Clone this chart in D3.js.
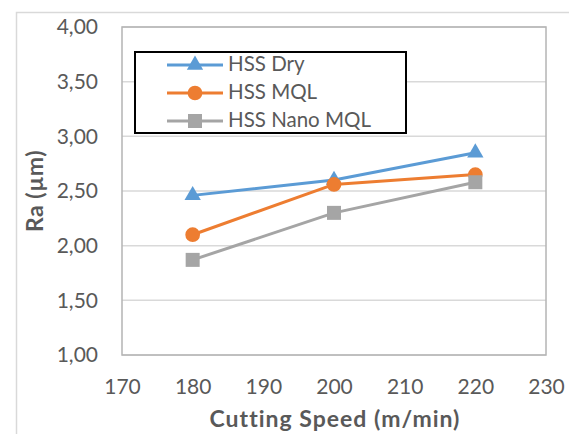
<!DOCTYPE html>
<html>
<head>
<meta charset="utf-8">
<script src="https://cdn.jsdelivr.net/npm/d3@7"></script>
<style>
  html, body { margin: 0; padding: 0; background: #fff; }
  svg { display: block; font-family: Lato, "Open Sans", sans-serif; }
</style>
</head>
<body>
<svg id="chart" width="569" height="434"></svg>
<script>
// Cutting speeds (m/min)
const speeds = [180, 200, 220];
// Surface roughness Ra (µm) per lubrication condition
const hssDry = [2.46, 2.60, 2.85];
const hssMql = [2.10, 2.56, 2.65];
const hssNanoMql = [1.87, 2.30, 2.58];
const seriesNames = ["HSS Dry", "HSS MQL", "HSS Nano MQL"];
const xTicks = [170, 180, 190, 200, 210, 220, 230];
const yTicks = [1.0, 1.5, 2.0, 2.5, 3.0, 3.5, 4.0];
const xTitle = "Cutting Speed (m/min)";
const yTitle = "Ra (µm)";

const series = [
  { name: seriesNames[0], values: hssDry, color: "#5B9BD5", symbol: d3.symbolTriangle, size: 115 },
  { name: seriesNames[1], values: hssMql, color: "#ED7D31", symbol: d3.symbolCircle, size: 170 },
  { name: seriesNames[2], values: hssNanoMql, color: "#A5A5A5", symbol: d3.symbolSquare, size: 196 }
];

const svg = d3.select("#chart");
const plot = { left: 122, right: 546, top: 27, bottom: 355 };

const x = d3.scaleLinear().domain([170, 230]).range([plot.left, plot.right]);
const y = d3.scaleLinear().domain([1, 4]).range([plot.bottom, plot.top]);

// outer chart frame
svg.append("rect")
  .attr("x", 16.5).attr("y", 12.5)
  .attr("width", 600).attr("height", 500)
  .attr("fill", "none").attr("stroke", "#D9D9D9").attr("stroke-width", 1.5);

// horizontal gridlines
svg.append("g")
  .selectAll("line")
  .data(yTicks)
  .join("line")
  .attr("x1", plot.left).attr("x2", plot.right)
  .attr("y1", d => y(d)).attr("y2", d => y(d))
  .attr("stroke", "#D9D9D9").attr("stroke-width", 1.5);

// plot area border
svg.append("rect")
  .attr("x", plot.left).attr("y", plot.top)
  .attr("width", plot.right - plot.left).attr("height", plot.bottom - plot.top)
  .attr("fill", "none").attr("stroke", "#B4B4B4").attr("stroke-width", 1.5);

// y axis labels
const yAxis = d3.axisLeft(y).tickValues(yTicks)
  .tickFormat(d => d3.format(".2f")(d).replace(".", ","))
  .tickSize(0).tickPadding(24);
svg.append("g")
  .attr("transform", `translate(${plot.left},0)`)
  .call(yAxis)
  .call(g => g.select(".domain").remove())
  .call(g => g.selectAll("text")
    .attr("fill", "#595959").attr("font-size", 21)
    .attr("font-family", "Lato, sans-serif"));

// x axis labels
const xAxis = d3.axisBottom(x).tickValues(xTicks).tickSize(0).tickPadding(24);
svg.append("g")
  .attr("transform", `translate(0,${plot.bottom})`)
  .call(xAxis)
  .call(g => g.select(".domain").remove())
  .call(g => g.selectAll("text")
    .attr("fill", "#595959").attr("font-size", 21)
    .attr("font-family", "Lato, sans-serif"));

// axis titles
svg.append("text")
  .attr("x", (plot.left + plot.right) / 2 + 1).attr("y", 427)
  .attr("text-anchor", "middle")
  .attr("font-size", 23).attr("font-weight", "bold").attr("fill", "#595959")
  .attr("letter-spacing", 1)
  .text(xTitle);

svg.append("text")
  .attr("transform", `translate(43,${(plot.top + plot.bottom) / 2}) rotate(-90)`)
  .attr("text-anchor", "middle")
  .attr("font-size", 23).attr("font-weight", "bold").attr("fill", "#595959")
  .attr("letter-spacing", 0.5)
  .text(yTitle);

// series lines and markers
const line = d3.line().x((d, i) => x(speeds[i])).y(d => y(d));
series.forEach(s => {
  svg.append("path")
    .datum(s.values)
    .attr("d", line)
    .attr("fill", "none").attr("stroke", s.color)
    .attr("stroke-width", 3).attr("stroke-linejoin", "round");
  svg.append("g")
    .selectAll("path")
    .data(s.values)
    .join("path")
    .attr("transform", (d, i) => `translate(${x(speeds[i])},${y(d)})`)
    .attr("d", d3.symbol().type(s.symbol).size(s.size))
    .attr("fill", s.color);
});

// legend
const legend = svg.append("g");
legend.append("rect")
  .attr("x", 135).attr("y", 52)
  .attr("width", 271).attr("height", 81)
  .attr("fill", "#fff").attr("stroke", "#000").attr("stroke-width", 2);
const rowY = [65, 93, 121];
series.forEach((s, i) => {
  const g = legend.append("g").attr("transform", `translate(0,${rowY[i]})`);
  g.append("line")
    .attr("x1", 167).attr("x2", 223)
    .attr("stroke", s.color).attr("stroke-width", 3);
  g.append("path")
    .attr("transform", "translate(195,0)")
    .attr("d", d3.symbol().type(s.symbol).size(s.size))
    .attr("fill", s.color);
  g.append("text")
    .attr("x", 228).attr("y", -1).attr("dy", "0.35em")
    .attr("font-size", 20.5).attr("fill", "#595959")
    .text(s.name);
});
</script>
</body>
</html>
